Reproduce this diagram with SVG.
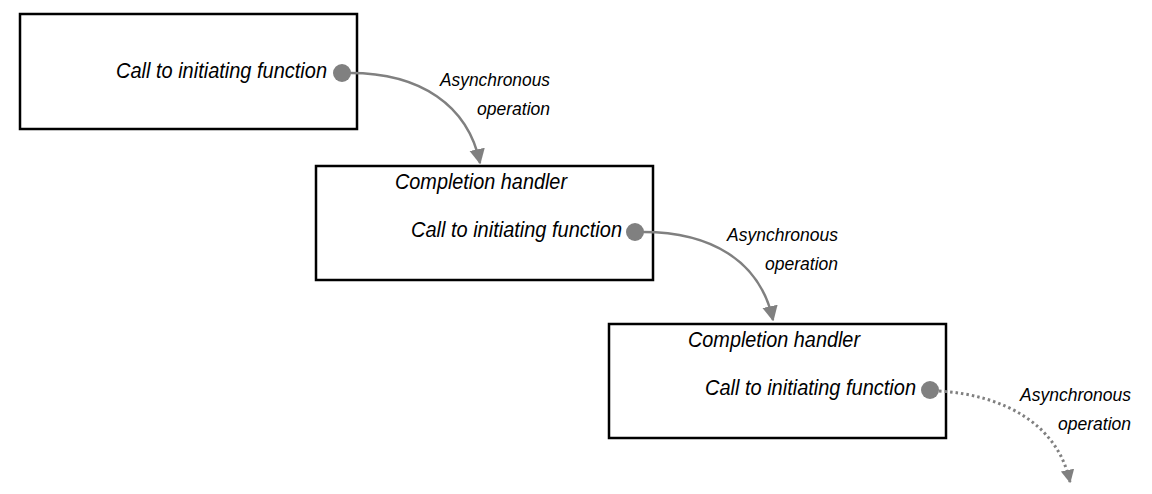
<svg xmlns="http://www.w3.org/2000/svg" width="1152" height="494" viewBox="0 0 1152 494">
<style>
.box{fill:#fff;stroke:#000;stroke-width:2.5}
.t{font-family:"Liberation Sans",Arial,sans-serif;font-style:italic;font-size:22px;fill:#000}
.l{font-family:"Liberation Sans",Arial,sans-serif;font-style:italic;font-size:18px;fill:#000}
.dot{fill:#808080}
.c{fill:none;stroke:#808080;stroke-width:2.5}
.d{fill:none;stroke:#808080;stroke-width:3;stroke-dasharray:2.5 3}
</style>
<defs>
<marker id="ah" viewBox="0 0 10 10" refX="9" refY="5" markerWidth="6.2" markerHeight="7" markerUnits="strokeWidth" orient="auto"><path d="M0,0 L10,5 L0,10 Z" fill="#808080"/></marker>
<marker id="ah2" viewBox="0 0 10 10" refX="9" refY="5" markerWidth="4.5" markerHeight="5" markerUnits="strokeWidth" orient="auto"><path d="M0,0 L10,5 L0,10 Z" fill="#808080"/></marker>
</defs>
<g id="node1">
<rect class="box" x="20" y="14" width="337" height="115"/>
<text class="t" x="327" y="78" text-anchor="end" textLength="211" lengthAdjust="spacingAndGlyphs">Call to initiating function</text>
<circle class="dot" cx="342" cy="73" r="9"/>
</g>
<g id="node2">
<rect class="box" x="316" y="166" width="337" height="114"/>
<text class="t" x="395" y="189" textLength="172" lengthAdjust="spacingAndGlyphs">Completion handler</text>
<text class="t" x="622" y="237" text-anchor="end" textLength="211" lengthAdjust="spacingAndGlyphs">Call to initiating function</text>
<circle class="dot" cx="635" cy="232" r="9"/>
</g>
<g id="node3">
<rect class="box" x="609" y="324" width="337" height="114"/>
<text class="t" x="688" y="347" textLength="172" lengthAdjust="spacingAndGlyphs">Completion handler</text>
<text class="t" x="916" y="395" text-anchor="end" textLength="211" lengthAdjust="spacingAndGlyphs">Call to initiating function</text>
<circle class="dot" cx="930" cy="390" r="9"/>
</g>
<g id="connectors">
<path class="c" d="M350,73 C420,73 468,105 480,163" marker-end="url(#ah)"/>
<path class="c" d="M643,232 C710,232 760,260 773,320" marker-end="url(#ah)"/>
<path class="d" d="M939,391 C1005,395 1058,425 1070,482" marker-end="url(#ah2)"/>
</g>
<g id="labels">
<text class="l" x="550" y="86" text-anchor="end" textLength="110" lengthAdjust="spacingAndGlyphs">Asynchronous</text>
<text class="l" x="550" y="115" text-anchor="end" textLength="73" lengthAdjust="spacingAndGlyphs">operation</text>
<text class="l" x="838" y="241" text-anchor="end" textLength="111" lengthAdjust="spacingAndGlyphs">Asynchronous</text>
<text class="l" x="838" y="270" text-anchor="end" textLength="73" lengthAdjust="spacingAndGlyphs">operation</text>
<text class="l" x="1131" y="401" text-anchor="end" textLength="111" lengthAdjust="spacingAndGlyphs">Asynchronous</text>
<text class="l" x="1131" y="430" text-anchor="end" textLength="73" lengthAdjust="spacingAndGlyphs">operation</text>
</g>
</svg>
